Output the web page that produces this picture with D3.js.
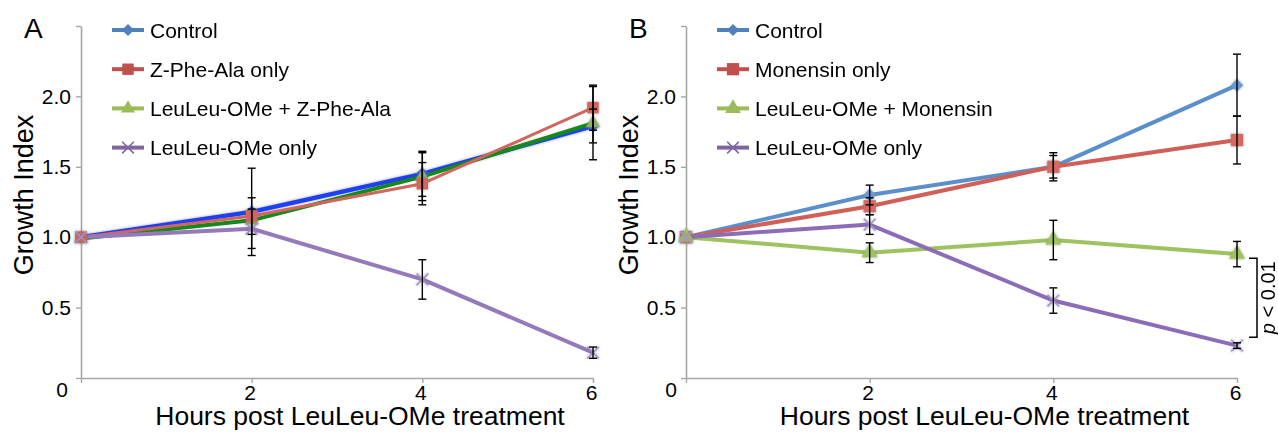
<!DOCTYPE html>
<html>
<head>
<meta charset="utf-8">
<script src="https://cdn.jsdelivr.net/npm/d3@7"></script>
<style>
  body { margin: 0; background: #fff; }
  svg { display: block; }
</style>
</head>
<body>
<div id="chart"></div>
<script>
// Growth index time course, panels A and B

// Shared x categories (hours) and y ticks
const hours = [0, 2, 4, 6];
const yTicks = [0, 0.5, 1.0, 1.5, 2.0, 2.5];

// Panel A series (mean, error)
const controlA = [1.0, 1.18, 1.45, 1.79];
const controlAErr = [0, 0.31, 0.16, 0.12];
const zpheA = [1.0, 1.15, 1.38, 1.92];
const zpheAErr = [0, 0.13, 0.15, 0.16];
const leuZpheA = [0.99, 1.12, 1.43, 1.81];
const leuZpheAErr = [0, 0, 0.17, 0.26];
const leuA = [1.0, 1.06, 0.70, 0.18];
const leuAErr = [0, 0.14, 0.14, 0.04];

// Panel B series (mean, error)
const controlB = [1.0, 1.30, 1.50, 2.08];
const controlBErr = [0, 0.07, 0.10, 0.22];
const monB = [1.0, 1.22, 1.50, 1.69];
const monBErr = [0, 0.06, 0.08, 0.17];
const leuMonB = [1.0, 0.89, 0.98, 0.88];
const leuMonBErr = [0, 0.07, 0.14, 0.09];
const leuB = [1.0, 1.09, 0.55, 0.23];
const leuBErr = [0, 0.07, 0.09, 0.02];

// Legend labels (in legend order)
const legendA = ["Control", "Z-Phe-Ala only", "LeuLeu-OMe + Z-Phe-Ala", "LeuLeu-OMe only"];
const legendB = ["Control", "Monensin only", "LeuLeu-OMe + Monensin", "LeuLeu-OMe only"];

// significance bracket in panel B (growth index range)
const bracketRange = [0.85, 0.29];

const FONT = "'Liberation Sans', Arial, Helvetica, sans-serif";
const W = 1278, H = 432;

const svg = d3.select("#chart").append("svg")
    .attr("width", W)
    .attr("height", H);

// soft glow used by the markers
const defs = svg.append("defs");
const glow = defs.append("filter").attr("id", "glow")
    .attr("x", "-50%").attr("y", "-50%").attr("width", "200%").attr("height", "200%");
glow.append("feGaussianBlur").attr("in", "SourceAlpha").attr("stdDeviation", 1.6).attr("result", "blur");
glow.append("feFlood").attr("flood-color", "#777").attr("flood-opacity", 0.7).attr("result", "col");
glow.append("feComposite").attr("in", "col").attr("in2", "blur").attr("operator", "in").attr("result", "shadow");
const merge = glow.append("feMerge");
merge.append("feMergeNode").attr("in", "shadow");
merge.append("feMergeNode").attr("in", "SourceGraphic");

const symX = d3.symbolX || d3.symbolCross;
const symDiamond = d3.symbolDiamond2 || d3.symbolDiamond;

const y = d3.scaleLinear().domain([0, 2.5]).range([378, 26]);

function drawPanel(opts) {
  const x = d3.scaleLinear().domain([0, 6]).range(opts.xRange);
  const g = svg.append("g");
  const x0 = opts.xRange[0];

  // y axis
  const yAxis = g.append("g")
      .attr("transform", `translate(${x0},0)`)
      .call(d3.axisLeft(y).tickValues(yTicks).tickSize(5).tickSizeOuter(0).tickPadding(5)
          .tickFormat(d => (d === 2.5 ? "" : d === 0 ? "0" : d3.format(".1f")(d))));
  yAxis.select(".domain").attr("stroke", "#a6a6a6").attr("stroke-width", 1.6);
  yAxis.selectAll(".tick line").attr("stroke", "#a6a6a6").attr("stroke-width", 1.4);
  yAxis.selectAll(".tick text")
      .attr("font-family", FONT).attr("font-size", 21).attr("fill", "#000");
  yAxis.selectAll(".tick").filter(d => d === 0).select("text")
      .attr("dy", "0.9em").attr("x", -opts.zeroShift);

  // x axis
  const xAxis = g.append("g")
      .attr("transform", `translate(0,${y(0)})`)
      .call(d3.axisBottom(x).tickValues(hours).tickSize(5).tickSizeOuter(0).tickPadding(2)
          .tickFormat(d => (d === 0 ? "" : d)));
  xAxis.select(".domain").attr("stroke", "#a6a6a6").attr("stroke-width", 1.6);
  xAxis.selectAll(".tick line").attr("stroke", "#a6a6a6").attr("stroke-width", 1.4);
  xAxis.selectAll(".tick text")
      .attr("font-family", FONT).attr("font-size", 21).attr("fill", "#000")
      .attr("dx", -2);

  // titles
  g.append("text")
      .attr("x", (opts.xRange[0] + opts.xRange[1]) / 2 + 23)
      .attr("y", 425)
      .attr("text-anchor", "middle")
      .attr("font-family", FONT).attr("font-size", 26.5)
      .text("Hours post LeuLeu-OMe treatment");
  g.append("text")
      .attr("transform", `translate(${x0 - 48},195) rotate(-90)`)
      .attr("text-anchor", "middle")
      .attr("font-family", FONT).attr("font-size", 27)
      .text("Growth Index");
  g.append("text")
      .attr("x", x0 - 57)
      .attr("y", 38)
      .attr("font-family", FONT).attr("font-size", 28)
      .text(opts.letter);

  const line = d3.line().x((d, i) => x(hours[i])).y(d => y(d));

  // lines (drawing order)
  opts.series.forEach(s => {
    g.append("path")
        .datum(s.values)
        .attr("d", line)
        .attr("fill", "none")
        .attr("stroke", s.lineColor)
        .attr("stroke-width", s.lineWidth)
        .attr("stroke-linejoin", "round")
        .attr("filter", s.glowLine ? "url(#glow)" : null);
  });

  // markers
  opts.series.forEach(s => {
    const mk = g.append("g").attr("filter", "url(#glow)");
    mk.selectAll("path")
        .data(s.values)
        .join("path")
        .attr("transform", (d, i) => `translate(${x(hours[i])},${y(d)})`)
        .attr("d", d3.symbol().type(s.symbol).size(s.size))
        .attr("fill", s.stroke ? "none" : s.markerColor)
        .attr("stroke", s.stroke ? s.markerColor : "none")
        .attr("stroke-width", s.stroke ? 1.6 : 0);
  });

  // error bars
  opts.series.forEach(s => {
    const eb = g.append("g").attr("stroke", "#000").attr("stroke-width", 1.4);
    s.values.forEach((v, i) => {
      const e = s.err[i];
      if (!e) return;
      const cx = x(hours[i]);
      eb.append("line").attr("x1", cx).attr("x2", cx).attr("y1", y(v + e)).attr("y2", y(v - e));
      eb.append("line").attr("x1", cx - 4).attr("x2", cx + 4).attr("y1", y(v + e)).attr("y2", y(v + e));
      eb.append("line").attr("x1", cx - 4).attr("x2", cx + 4).attr("y1", y(v - e)).attr("y2", y(v - e));
    });
  });

  // legend (own order, independent of drawing order)
  const leg = g.append("g");
  opts.series.forEach(s => {
    const cy = 30 + s.row * 39.2;
    const lx = x0 + 31;
    leg.append("line")
        .attr("x1", lx).attr("x2", lx + 32).attr("y1", cy).attr("y2", cy)
        .attr("stroke", s.legendColor).attr("stroke-width", 4);
    leg.append("path")
        .attr("transform", `translate(${lx + 16},${cy})`)
        .attr("d", d3.symbol().type(s.symbol).size(s.size))
        .attr("fill", s.stroke ? "none" : s.legendColor)
        .attr("stroke", s.stroke ? s.legendColor : "none")
        .attr("stroke-width", s.stroke ? 1.6 : 0);
    leg.append("text")
        .attr("x", x0 + 69)
        .attr("y", cy + 7.5)
        .attr("font-family", FONT).attr("font-size", 21)
        .text(s.label);
  });

  return { g, x };
}

const blue = "#4f81bd", red = "#c0504d", green = "#9bbb59", purple = "#8064a2";

drawPanel({
  letter: "A",
  xRange: [81, 593],
  zeroShift: 13,
  series: [
    { row: 0, label: legendA[0], values: controlA, err: controlAErr, legendColor: blue, lineColor: "#1f3ff5",
      markerColor: "#2f55f0", lineWidth: 4.5, symbol: symDiamond, size: 95, glowLine: true },
    { row: 2, label: legendA[2], values: leuZpheA, err: leuZpheAErr, legendColor: green, lineColor: "#16891a",
      markerColor: "#8fb060", lineWidth: 4, symbol: d3.symbolTriangle, size: 85 },
    { row: 1, label: legendA[1], values: zpheA, err: zpheAErr, legendColor: red, lineColor: "#d0665d",
      markerColor: "#d0665d", lineWidth: 3, symbol: d3.symbolSquare, size: 130 },
    { row: 3, label: legendA[3], values: leuA, err: leuAErr, legendColor: purple, lineColor: "#9479bb",
      markerColor: "#a58fc8", lineWidth: 4, symbol: symX, size: 90, stroke: true }
  ]
});

const panelB = drawPanel({
  letter: "B",
  xRange: [686, 1237],
  zeroShift: 9,
  series: [
    { row: 0, label: legendB[0], values: controlB, err: controlBErr, legendColor: blue, lineColor: "#5b8fcb",
      markerColor: "#6a9ad3", lineWidth: 4, symbol: symDiamond, size: 95 },
    { row: 1, label: legendB[1], values: monB, err: monBErr, legendColor: red, lineColor: "#d15f57",
      markerColor: "#d56a62", lineWidth: 4, symbol: d3.symbolSquare, size: 150 },
    { row: 2, label: legendB[2], values: leuMonB, err: leuMonBErr, legendColor: green, lineColor: "#9fc260",
      markerColor: "#9fc260", lineWidth: 4, symbol: d3.symbolTriangle, size: 110 },
    { row: 3, label: legendB[3], values: leuB, err: leuBErr, legendColor: purple, lineColor: "#8c6cb8",
      markerColor: "#a994cc", lineWidth: 4, symbol: symX, size: 90, stroke: true }
  ]
});

// significance bracket
const bx = panelB.x(6) + 20;
const br = svg.append("g").attr("stroke", "#000").attr("stroke-width", 1.5).attr("fill", "none");
br.append("path")
    .attr("d", `M${bx - 8},${y(bracketRange[0])}H${bx}V${y(bracketRange[1])}H${bx - 8}`);
const pt = svg.append("text")
    .attr("transform", `translate(1275,${(y(bracketRange[0]) + y(bracketRange[1])) / 2}) rotate(-90)`)
    .attr("text-anchor", "middle")
    .attr("font-family", FONT).attr("font-size", 20);
pt.append("tspan").attr("font-style", "italic").text("p");
pt.append("tspan").text(" < 0.01");
</script>
</body>
</html>
